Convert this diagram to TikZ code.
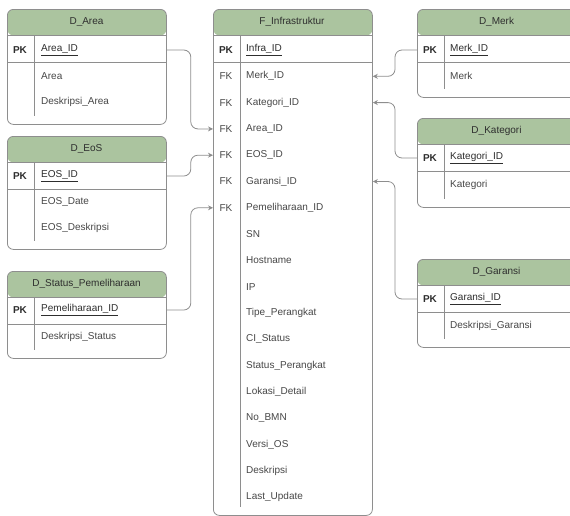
\documentclass[tikz,border=0pt]{standalone}
\usepackage{fontspec}
\setmainfont{Liberation Sans}
\usetikzlibrary{arrows.meta}

\definecolor{hdrgreen}{HTML}{ABC49F}
\definecolor{linegray}{HTML}{8E8E8E}
\definecolor{txtgray}{HTML}{474747}
\definecolor{keygray}{HTML}{2E2E2E}

\tikzset{
  tbl/.style={draw=linegray, line width=0.8pt, rounded corners=6pt, fill=white,
    anchor=north west, inner sep=0pt, minimum width=159pt,
    path picture={
      \fill[hdrgreen] (path picture bounding box.north west) rectangle
        ([yshift=-26pt]path picture bounding box.north east);
      \draw[linegray, line width=0.8pt]
        ([yshift=-26pt]path picture bounding box.north west) -- ++(200pt,0pt)
        ([yshift=-52.5pt]path picture bounding box.north west) -- ++(200pt,0pt)
        ([xshift=27pt,yshift=-26pt]path picture bounding box.north west)
          -- ([xshift=27pt,yshift=8pt]path picture bounding box.south west);
    }},
  title/.style={font=\fontsize{10}{12}\selectfont, text=keygray, inner sep=0pt},
  fld/.style={anchor=west, font=\fontsize{10}{12}\selectfont, text=txtgray, inner sep=0pt},
  keyfld/.style={fld, text=keygray},
  pk/.style={font=\fontsize{10}{12}\selectfont\bfseries, text=keygray, inner sep=0pt},
  fk/.style={font=\fontsize{10}{12}\selectfont, text=txtgray, inner sep=0pt},
  link/.style={draw=linegray, line width=0.8pt, rounded corners=7pt,
    -{Stealth[length=5pt,width=5pt]}}
}

\begin{document}
\begin{tikzpicture}[x=1pt,y=-1pt]
\useasboundingbox (0,0) rectangle (570,515);
\clip (0,0) rectangle (570,515);

% fact table
\node[tbl, minimum height=506pt] (f) at (213,9) {};
\node[title] (f-title) at (292,22) {F\_Infrastruktur};
\node[pk] (f-pk) at (226,50) {PK};
\node[keyfld] (f-id) at (246,50) {\underline{Infra\_ID}};
\foreach \i in {1,...,6}
  \node[fk] (f-fk\i) at (226,50+26.3*\i) {FK};
\foreach \t [count=\i] in {Merk\_ID, Kategori\_ID, Area\_ID, EOS\_ID, Garansi\_ID,
    Pemeliharaan\_ID, SN, Hostname, IP, Tipe\_Perangkat, CI\_Status,
    Status\_Perangkat, Lokasi\_Detail, No\_BMN, Versi\_OS, Deskripsi, Last\_Update}
  \node[fld] (f-\i) at (246,50+26.3*\i) {\t};

% left dimensions
\node[tbl, minimum height=115pt] (area) at (7,9) {};
\node[title] (area-title) at (86.5,22) {D\_Area};
\node[pk] (area-pk) at (20,50) {PK};
\node[keyfld] (area-id) at (41,50) {\underline{Area\_ID}};
\node[fld] (area-1) at (41,76) {Area};
\node[fld] (area-2) at (41,102) {Deskripsi\_Area};

\node[tbl, minimum height=113pt] (eos) at (7,136) {};
\node[title] (eos-title) at (86.5,149) {D\_EoS};
\node[pk] (eos-pk) at (20,176) {PK};
\node[keyfld] (eos-id) at (41,176) {\underline{EOS\_ID}};
\node[fld] (eos-1) at (41,202) {EOS\_Date};
\node[fld] (eos-2) at (41,228) {EOS\_Deskripsi};

\node[tbl, minimum height=87pt] (stat) at (7,271) {};
\node[title] (stat-title) at (86.5,284) {D\_Status\_Pemeliharaan};
\node[pk] (stat-pk) at (20,310) {PK};
\node[keyfld] (stat-id) at (41,310) {\underline{Pemeliharaan\_ID}};
\node[fld] (stat-1) at (41,337) {Deskripsi\_Status};

% right dimensions
\node[tbl, minimum height=88pt] (merk) at (417,9) {};
\node[title] (merk-title) at (496.5,22) {D\_Merk};
\node[pk] (merk-pk) at (430,50) {PK};
\node[keyfld] (merk-id) at (450,50) {\underline{Merk\_ID}};
\node[fld] (merk-1) at (450,76) {Merk};

\node[tbl, minimum height=89pt] (kat) at (417,118) {};
\node[title] (kat-title) at (496.5,131) {D\_Kategori};
\node[pk] (kat-pk) at (430,158) {PK};
\node[keyfld] (kat-id) at (450,158) {\underline{Kategori\_ID}};
\node[fld] (kat-1) at (450,185) {Kategori};

\node[tbl, minimum height=88pt] (gar) at (417,259) {};
\node[title] (gar-title) at (496.5,272) {D\_Garansi};
\node[pk] (gar-pk) at (430,299) {PK};
\node[keyfld] (gar-id) at (450,299) {\underline{Garansi\_ID}};
\node[fld] (gar-1) at (450,326) {Deskripsi\_Garansi};

% relations
\draw[link] (area.east |- area-id) -- ++(24,0) |- (f.west |- f-3);
\draw[link] (eos.east |- eos-id) -- ++(24,0) |- (f.west |- f-4);
\draw[link] (stat.east |- stat-id) -- ++(24,0) |- (f.west |- f-6);
\draw[link] (merk.west |- merk-id) -- ++(-22,0) |- (f.east |- f-1);
\draw[link] (kat.west |- kat-id) -- ++(-22,0) |- (f.east |- f-2);
\draw[link] (gar.west |- gar-id) -- ++(-22,0) |- (f.east |- f-5);
\end{tikzpicture}
\end{document}
